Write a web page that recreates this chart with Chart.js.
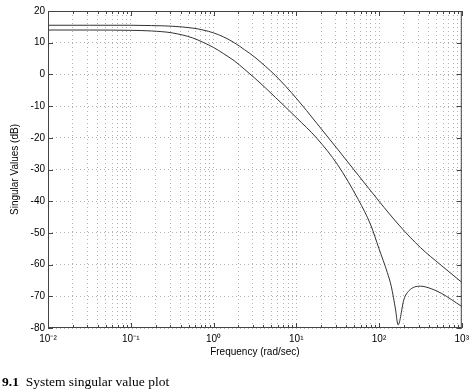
<!DOCTYPE html>
<html>
<head>
<meta charset="utf-8">
<script src="https://cdn.jsdelivr.net/npm/chart.js@4.4.0/dist/chart.umd.min.js"></script>
<style>
  html, body { margin: 0; padding: 0; background: #fff; }
  #wrap { position: relative; width: 474px; height: 391px; }
  #caption { position: absolute; left: 2px; top: 374px; font-family: "Liberation Serif", serif; font-size: 13.5px; color: #000; white-space: nowrap; }
</style>
</head>
<body>
<div id="wrap">
  <canvas id="svChart" width="474" height="391"></canvas>
  <div id="caption"><b>9.1</b>&nbsp;&nbsp;System singular value plot</div>
</div>
<script>
// frequencies in rad/sec, values in dB
var freqUpper = [0.01, 0.0316, 0.1, 0.178, 0.316, 0.562, 0.75, 1, 1.33, 1.78, 2.37, 3.16, 4.22, 5.62, 10, 17.8, 31.6, 56.2, 100, 178, 316, 562, 1000];
var svUpper = [15.5, 15.5, 15.5, 15.4, 15.2, 14.6, 14.0, 13.1, 11.8, 10.0, 7.8, 5.4, 2.6, -0.4, -7.5, -15.5, -23.6, -31.8, -40.0, -47.8, -54.6, -60.2, -65.6];

var freqLower = [0.01, 0.0316, 0.1, 0.178, 0.316, 0.562, 0.75, 1, 1.33, 1.78, 2.37, 3.16, 4.22, 5.62, 10, 17.8, 31.6, 56.2, 79.4, 100, 126, 141, 158, 170, 200, 229, 316, 427, 562, 1000];
var svLower = [14.0, 14.0, 13.9, 13.7, 13.1, 11.5, 10.1, 8.5, 6.5, 4.3, 1.6, -1.2, -4.2, -7.3, -13.6, -20.2, -28.5, -39.5, -47.5, -55.0, -62.5, -67.0, -74.0, -79.0, -71.0, -68.3, -66.8, -67.6, -69.0, -73.2];

var xDecades = [0.01, 0.1, 1, 10, 100, 1000];
var xTickLabels = ['10\u207B\u00B2', '10\u207B\u00B9', '10\u2070', '10\u00B9', '10\u00B2', '10\u00B3'];
var yTicks = [-80, -70, -60, -50, -40, -30, -20, -10, 0, 10, 20];

function toPoints(xs, ys) {
  return xs.map(function (x, i) { return { x: x, y: ys[i] }; });
}

// box around the axes plus the small inward tick marks
var frameTicks = {
  id: 'frameTicks',
  afterDraw: function (chart) {
    var ctx = chart.ctx, a = chart.chartArea;
    var xs = chart.scales.x, ys = chart.scales.y;
    ctx.save();
    ctx.strokeStyle = '#444';
    ctx.lineWidth = 1;
    ctx.strokeRect(a.left + 0.5, a.top + 0.5, a.right - a.left - 1, a.bottom - a.top - 1);
    ctx.beginPath();
    xs.ticks.forEach(function (t) {
      var px = Math.round(xs.getPixelForValue(t.value)) + 0.5;
      var len = xDecades.indexOf(t.value) >= 0 ? 5 : 3;
      ctx.moveTo(px, a.bottom); ctx.lineTo(px, a.bottom - len);
      ctx.moveTo(px, a.top); ctx.lineTo(px, a.top + len);
    });
    ys.ticks.forEach(function (t) {
      var py = Math.round(ys.getPixelForValue(t.value)) + 0.5;
      ctx.moveTo(a.left, py); ctx.lineTo(a.left + 5, py);
      ctx.moveTo(a.right, py); ctx.lineTo(a.right - 5, py);
    });
    ctx.stroke();
    ctx.restore();
  }
};

var ctx = document.getElementById('svChart').getContext('2d');
var svChart = new Chart(ctx, {
  type: 'line',
  data: {
    datasets: [{
      label: 'sigma max',
      data: toPoints(freqUpper, svUpper),
      borderColor: '#333',
      borderWidth: 1,
      pointRadius: 0,
      cubicInterpolationMode: 'monotone'
    }, {
      label: 'sigma min',
      data: toPoints(freqLower, svLower),
      borderColor: '#333',
      borderWidth: 1,
      pointRadius: 0,
      cubicInterpolationMode: 'monotone'
    }]
  },
  options: {
    responsive: false,
    animation: false,
    layout: { padding: { top: 11, right: 10, left: 0, bottom: 33 } },
    plugins: { legend: { display: false }, tooltip: { enabled: false } },
    scales: {
      x: {
        type: 'logarithmic',
        min: 0.01,
        max: 1000,
        afterBuildTicks: function (scale) {
          var t = [];
          for (var i = 0; i < xDecades.length - 1; i++) {
            for (var m = 1; m < 10; m++) t.push({ value: m === 1 ? xDecades[i] : xDecades[i] * m });
          }
          t.push({ value: xDecades[xDecades.length - 1] });
          scale.ticks = t;
        },
        afterFit: function (scale) { scale.height = 30; },
        grid: { color: 'rgba(0,0,0,0.3)', drawTicks: false },
        border: { display: false, dash: [1, 3] },
        ticks: {
          autoSkip: false,
          maxRotation: 0,
          padding: 5,
          color: '#000',
          font: { family: 'Liberation Sans', size: 10 },
          callback: function (v) {
            var i = xDecades.indexOf(v);
            return i >= 0 ? xTickLabels[i] : '';
          }
        },
        title: {
          display: true,
          text: 'Frequency (rad/sec)',
          color: '#000',
          font: { family: 'Liberation Sans', size: 10 },
          padding: { top: 0, bottom: 0 }
        }
      },
      y: {
        min: -80,
        max: 20,
        afterBuildTicks: function (scale) {
          scale.ticks = yTicks.map(function (v) { return { value: v }; });
        },
        afterFit: function (scale) { scale.width = 48; },
        grid: { color: 'rgba(0,0,0,0.3)', drawTicks: false },
        border: { display: false, dash: [1, 3] },
        ticks: {
          padding: 3,
          color: '#000',
          font: { family: 'Liberation Sans', size: 10 }
        },
        title: {
          display: true,
          text: 'Singular Values (dB)',
          color: '#000',
          font: { family: 'Liberation Sans', size: 10 },
          padding: { top: 9, bottom: 0 }
        }
      }
    }
  },
  plugins: [frameTicks]
});
</script>
</body>
</html>
